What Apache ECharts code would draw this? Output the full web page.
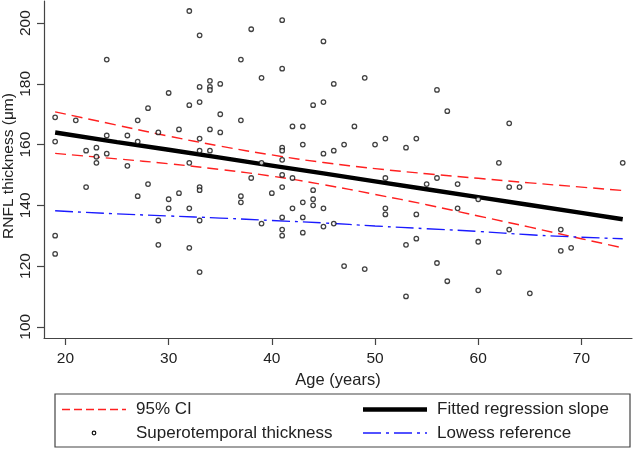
<!DOCTYPE html>
<html>
<head>
<meta charset="utf-8">
<script src="https://cdn.jsdelivr.net/npm/echarts@6/dist/echarts.min.js"></script>
<style>
  html, body { margin: 0; padding: 0; background: #fff; }
  #chart { width: 633px; height: 449px; }
</style>
</head>
<body>
<div id="chart"></div>
<script>
// ---- Data ----
const xTicks = [20, 30, 40, 50, 60, 70];
const yTicks = [100, 120, 140, 160, 180, 200];

// Superotemporal thickness: [age, RNFL thickness]
const scatterPoints = [
  [19,169],[19,161],[19,130],[19,124],
  [21,168],
  [22,158],[22,146],
  [23,159],[23,156],[23,154],
  [24,188],[24,163],[24,157],
  [26,163],[26,153],
  [27,168],[27,161],[27,143],
  [28,172],[28,147],
  [29,164],[29,135],[29,127],
  [30,177],[30,142],[30,139],
  [31,165],[31,144],
  [32,204],[32,173],[32,154],[32,139],[32,126],
  [33,196],[33,179],[33,174],[33,162],[33,158],[33,146],[33,145],[33,135],[33,118],
  [34,181],[34,179],[34,178],[34,165],[34,158],
  [35,180],[35,170],[35,164],
  [37,188],[37,168],[37,143],[37,141],
  [38,198],[38,149],
  [39,182],[39,154],[39,134],
  [40,144],
  [41,201],[41,185],[41,159],[41,158],[41,155],[41,150],[41,146],[41,136],[41,132],[41,130],
  [42,166],[42,149],[42,139],
  [43,166],[43,160],[43,141],[43,136],[43,131],
  [44,173],[44,145],[44,142],[44,140],
  [45,194],[45,174],[45,157],[45,139],[45,133],
  [46,180],[46,158],[46,134],
  [47,160],[47,120],
  [48,166],
  [49,182],[49,119],
  [50,160],
  [51,162],[51,149],[51,139],[51,137],
  [53,159],[53,127],[53,110],
  [54,162],[54,137],[54,129],
  [55,147],
  [56,178],[56,149],[56,121],
  [57,171],[57,115],
  [58,147],[58,139],
  [60,142],[60,128],[60,112],
  [62,154],[62,118],
  [63,167],[63,146],[63,132],
  [64,146],
  [65,111],
  [68,132],[68,125],
  [69,126],
  [74,154]
];

// Lines, read at these ages
const lineAges   = [19, 25, 30, 35, 40, 45, 50, 55, 60, 65, 70, 74];
const fitted     = [164.0, 160.8, 158.3, 155.7, 153.1, 150.5, 147.9, 145.3, 142.7, 140.1, 137.5, 135.4];
const ciUpper    = [170.8, 166.4, 162.8, 159.5, 156.6, 154.1, 152.1, 150.4, 148.9, 147.4, 146.0, 144.9];
const ciLower    = [157.1, 155.3, 153.7, 151.8, 149.6, 146.8, 143.6, 140.2, 136.5, 132.8, 129.0, 126.0];
const lowess     = [138.2, 137.2, 136.5, 135.8, 135.0, 134.2, 133.2, 132.3, 131.4, 130.3, 129.5, 129.0];

const legendNames = ['95% CI', 'Fitted regression slope', 'Superotemporal thickness', 'Lowess reference'];
const xTitle = 'Age (years)';
const yTitle = 'RNFL thickness (μm)';

function pairs(xs, ys) { return xs.map((x, i) => [x, ys[i]]); }

const FONT = 'Liberation Sans, Arial, sans-serif';
const AXIS_COLOR = '#444';

const chart = echarts.init(document.getElementById('chart'), null, { renderer: 'canvas' });

const ciStyle = { color: '#ff2020', width: 1.4, type: [11, 6] };
const lowessStyle = { color: '#1a1aff', width: 1.4, type: [18, 5, 3, 5] };

// Legend box geometry
const LB = { x: 55, y: 394, w: 575, h: 53 };
const row1 = 409.5, row2 = 433;
const LFONT = '17px ' + FONT;

const option = {
  animation: false,
  backgroundColor: '#ffffff',
  grid: { left: 44, right: 1, top: 1, bottom: 111, containLabel: false, outerBoundsMode: 'none' },
  xAxis: {
    type: 'value',
    min: 17.92, max: 74.9,
    axisLine: { show: true, lineStyle: { color: AXIS_COLOR, width: 1.2 } },
    axisTick: { show: true, length: 7, lineStyle: { color: AXIS_COLOR, width: 1.2 }, customValues: xTicks },
    axisLabel: { color: '#222', fontFamily: FONT, fontSize: 15.5, margin: 13, customValues: xTicks },
    splitLine: { show: false },
    name: xTitle,
    nameLocation: 'middle',
    nameGap: 25,
    nameTextStyle: { color: '#222', fontFamily: FONT, fontSize: 16.5 }
  },
  yAxis: {
    type: 'value',
    min: 96.3, max: 207.3,
    axisLine: { show: true, lineStyle: { color: AXIS_COLOR, width: 1.2 } },
    axisTick: { show: true, length: 7, lineStyle: { color: AXIS_COLOR, width: 1.2 }, customValues: yTicks },
    axisLabel: { color: '#222', fontFamily: FONT, fontSize: 15.5, margin: 10, rotate: 90, customValues: yTicks },
    splitLine: { show: false }
  },
  series: [
    {
      name: legendNames[2], type: 'scatter', data: scatterPoints,
      symbol: 'circle', symbolSize: 4.5,
      itemStyle: { color: '#ffffff', borderColor: '#111', borderWidth: 1.3 },
      z: 5
    },
    {
      name: legendNames[0], type: 'line', data: pairs(lineAges, ciUpper),
      smooth: true, symbol: 'none', lineStyle: ciStyle, z: 3
    },
    {
      name: legendNames[0] + ' lower', type: 'line', data: pairs(lineAges, ciLower),
      smooth: true, symbol: 'none', lineStyle: ciStyle, z: 3
    },
    {
      name: legendNames[1], type: 'line', data: pairs(lineAges, fitted),
      symbol: 'none', lineStyle: { color: '#000', width: 4.4 }, z: 4
    },
    {
      name: legendNames[3], type: 'line', data: pairs(lineAges, lowess),
      smooth: true, symbol: 'none', lineStyle: lowessStyle, z: 3
    }
  ],
  graphic: [
    { type: 'text', x: 9, y: 166, rotation: Math.PI / 2,
      style: { text: yTitle, font: '15.5px ' + FONT, fill: '#222', align: 'center', verticalAlign: 'middle' }, z: 11 },
    { type: 'rect', shape: { x: LB.x, y: LB.y, width: LB.w, height: LB.h },
      style: { fill: '#fff', stroke: '#444', lineWidth: 1.2 }, z: 10 },
    { type: 'line', shape: { x1: 62, y1: row1, x2: 126, y2: row1 },
      style: { stroke: '#ff2020', lineWidth: 1.4, lineDash: [8, 4] }, z: 11 },
    { type: 'text', x: 136, y: row1, style: { text: legendNames[0], font: LFONT, fill: '#222', verticalAlign: 'middle' }, z: 11 },
    { type: 'circle', shape: { cx: 94, cy: row2, r: 1.8 },
      style: { fill: '#fff', stroke: '#111', lineWidth: 1.2 }, z: 11 },
    { type: 'text', x: 136, y: row2, style: { text: legendNames[2], font: LFONT, fill: '#222', verticalAlign: 'middle' }, z: 11 },
    { type: 'line', shape: { x1: 363, y1: row1, x2: 427, y2: row1 },
      style: { stroke: '#000', lineWidth: 4.4 }, z: 11 },
    { type: 'text', x: 437, y: row1, style: { text: legendNames[1], font: LFONT, fill: '#222', verticalAlign: 'middle' }, z: 11 },
    { type: 'line', shape: { x1: 363, y1: row2, x2: 427, y2: row2 },
      style: { stroke: '#1a1aff', lineWidth: 1.4, lineDash: [18, 5, 3, 5] }, z: 11 },
    { type: 'text', x: 437, y: row2, style: { text: legendNames[3], font: LFONT, fill: '#222', verticalAlign: 'middle' }, z: 11 }
  ]
};

chart.setOption(option);
</script>
</body>
</html>
